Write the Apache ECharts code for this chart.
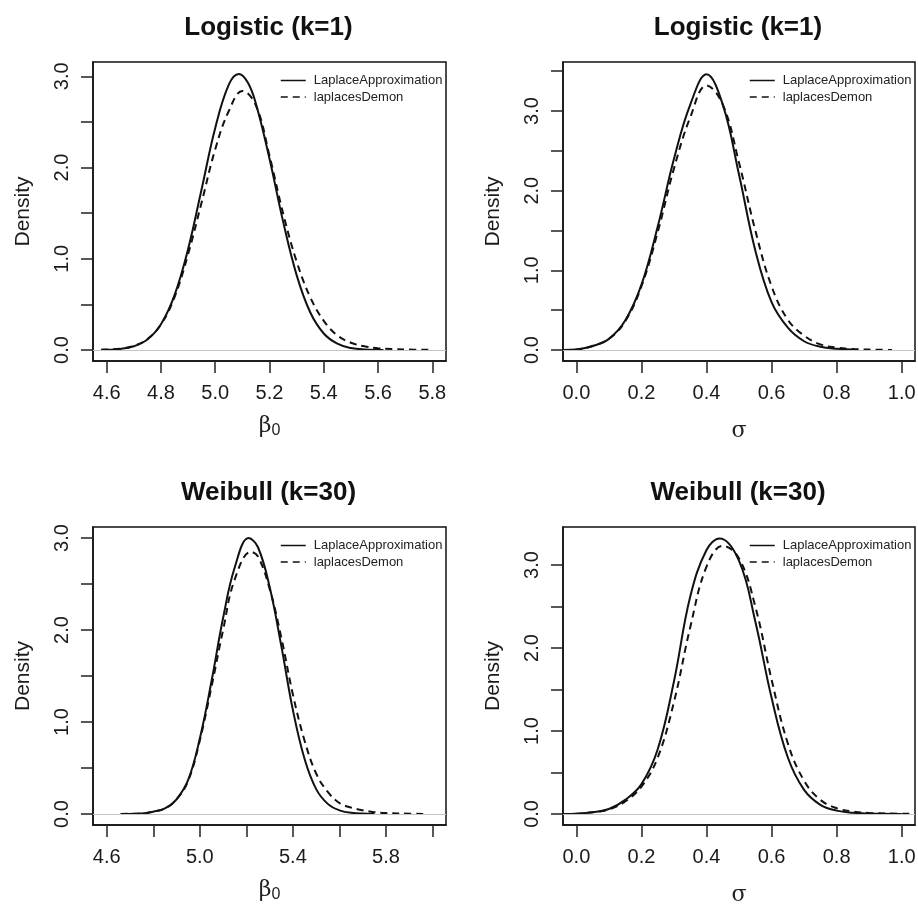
<!DOCTYPE html>
<html>
<head>
<meta charset="utf-8">
<script src="https://cdn.jsdelivr.net/npm/echarts@6/dist/echarts.min.js"></script>
<style>
	html, body { margin: 0; padding: 0; background: #fff; }
	#main { width: 918px; height: 904px; }
</style>
</head>
<body>
<div id="main"></div>
<script>
// ---- data ----
const titles = ['Logistic (k=1)', 'Logistic (k=1)', 'Weibull (k=30)', 'Weibull (k=30)'];
const seriesNames = ['LaplaceApproximation', 'laplacesDemon'];

// Logistic, beta0
const logBetaLA_x = [4.58, 4.65, 4.70, 4.75, 4.80, 4.85, 4.90, 4.95, 5.00, 5.05, 5.087, 5.12, 5.15, 5.20, 5.25, 5.30, 5.35, 5.40, 5.45, 5.50, 5.55, 5.62];
const logBetaLA_y = [0.002, 0.012, 0.041, 0.116, 0.283, 0.602, 1.107, 1.765, 2.434, 2.908, 3.025, 2.932, 2.699, 2.096, 1.410, 0.821, 0.414, 0.181, 0.069, 0.022, 0.006, 0.001];
const logBetaLD_x = [4.58, 4.65, 4.70, 4.75, 4.80, 4.85, 4.90, 4.95, 5.00, 5.05, 5.10, 5.15, 5.20, 5.25, 5.30, 5.35, 5.40, 5.45, 5.50, 5.55, 5.60, 5.65, 5.70, 5.80];
const logBetaLD_y = [0.003, 0.014, 0.045, 0.12, 0.28, 0.58, 1.05, 1.62, 2.20, 2.62, 2.84, 2.68, 2.13, 1.50, 0.97, 0.58, 0.32, 0.16, 0.08, 0.04, 0.02, 0.01, 0.005, 0.002];

// Logistic, sigma
const logSigLA_x = [-0.04, 0.00, 0.05, 0.10, 0.15, 0.20, 0.25, 0.30, 0.35, 0.40, 0.45, 0.50, 0.55, 0.60, 0.65, 0.70, 0.75, 0.80, 0.85];
const logSigLA_y = [0.0, 0.006, 0.05, 0.14, 0.37, 0.82, 1.55, 2.40, 3.08, 3.46, 3.08, 2.20, 1.25, 0.60, 0.28, 0.11, 0.04, 0.015, 0.005];
const logSigLD_x = [-0.04, 0.00, 0.05, 0.10, 0.15, 0.20, 0.25, 0.30, 0.35, 0.40, 0.45, 0.50, 0.55, 0.60, 0.65, 0.70, 0.75, 0.80, 0.85, 0.90, 0.97];
const logSigLD_y = [0.0, 0.006, 0.05, 0.14, 0.36, 0.80, 1.48, 2.28, 2.92, 3.32, 3.08, 2.35, 1.50, 0.80, 0.38, 0.18, 0.07, 0.03, 0.012, 0.005, 0.001];

// Weibull, beta0
const weiBetaLA_x = [4.66, 4.75, 4.80, 4.85, 4.90, 4.95, 5.00, 5.05, 5.10, 5.15, 5.21, 5.25, 5.30, 5.35, 5.40, 5.45, 5.50, 5.55, 5.60, 5.65, 5.75];
const weiBetaLA_y = [0.001, 0.006, 0.025, 0.06, 0.16, 0.37, 0.82, 1.44, 2.13, 2.68, 3.00, 2.90, 2.47, 1.83, 1.13, 0.60, 0.27, 0.11, 0.04, 0.013, 0.001];
const weiBetaLD_x = [4.66, 4.75, 4.80, 4.85, 4.90, 4.95, 5.00, 5.05, 5.10, 5.15, 5.22, 5.25, 5.30, 5.35, 5.40, 5.45, 5.50, 5.55, 5.60, 5.65, 5.70, 5.75, 5.80, 5.90, 5.96];
const weiBetaLD_y = [0.001, 0.006, 0.025, 0.06, 0.16, 0.36, 0.80, 1.38, 2.00, 2.55, 2.85, 2.80, 2.45, 1.92, 1.30, 0.80, 0.44, 0.24, 0.12, 0.07, 0.04, 0.02, 0.01, 0.003, 0.001];

// Weibull, sigma
const weiSigLA_x = [-0.04, 0.00, 0.05, 0.10, 0.15, 0.20, 0.25, 0.30, 0.35, 0.40, 0.44, 0.50, 0.55, 0.60, 0.65, 0.70, 0.75, 0.80, 0.85, 0.90, 1.00];
const weiSigLA_y = [0.0, 0.003, 0.02, 0.06, 0.17, 0.36, 0.78, 1.60, 2.62, 3.18, 3.32, 3.05, 2.32, 1.40, 0.68, 0.29, 0.11, 0.04, 0.015, 0.006, 0.001];
const weiSigLD_x = [-0.04, 0.00, 0.05, 0.10, 0.15, 0.20, 0.25, 0.30, 0.35, 0.40, 0.45, 0.50, 0.55, 0.60, 0.65, 0.70, 0.75, 0.80, 0.85, 0.90, 1.00, 1.04];
const weiSigLD_y = [0.0, 0.003, 0.02, 0.055, 0.15, 0.33, 0.68, 1.35, 2.25, 2.98, 3.23, 3.08, 2.50, 1.62, 0.85, 0.40, 0.17, 0.07, 0.03, 0.012, 0.002, 0.001];

// tick marks and labels
const betaTicksA = [4.6, 4.8, 5.0, 5.2, 5.4, 5.6, 5.8];
const betaLabelsA = [4.6, 4.8, 5.0, 5.2, 5.4, 5.6, 5.8];
const betaTicksB = [4.6, 4.8, 5.0, 5.2, 5.4, 5.6, 5.8, 6.0];
const betaLabelsB = [4.6, 5.0, 5.4, 5.8];
const sigTicks = [0.0, 0.2, 0.4, 0.6, 0.8, 1.0];
const densTicks3 = [0, 0.5, 1, 1.5, 2, 2.5, 3];
const densTicks35 = [0, 0.5, 1, 1.5, 2, 2.5, 3, 3.5];
const densLabels = [0, 1, 2, 3];

const SANS = 'Liberation Sans, Arial, Helvetica, sans-serif';
const SERIF = 'DejaVu Serif, Liberation Serif, serif';
const INK = '#1a1a1a';

const zip = (xs, ys) => xs.map((x, i) => [x, ys[i]]);

const panels = [
	{ box: [93, 62, 353, 299], xr: [4.5495, 5.8505], yr: [-0.1206, 3.157], xt: betaTicksA, xl: betaLabelsA, yt: densTicks3, xname: 'beta',
	  la: zip(logBetaLA_x, logBetaLA_y), ld: zip(logBetaLD_x, logBetaLD_y) },
	{ box: [563, 62, 352, 299], xr: [-0.0412, 1.0409], yr: [-0.138, 3.615], xt: sigTicks, xl: sigTicks, yt: densTicks35, xname: 'sigma',
	  la: zip(logSigLA_x, logSigLA_y), ld: zip(logSigLD_x, logSigLD_y) },
	{ box: [93, 527, 353, 298], xr: [4.541, 6.058], yr: [-0.1196, 3.12], xt: betaTicksB, xl: betaLabelsB, yt: densTicks3, xname: 'beta',
	  la: zip(weiBetaLA_x, weiBetaLA_y), ld: zip(weiBetaLD_x, weiBetaLD_y) },
	{ box: [563, 527, 352, 298], xr: [-0.0412, 1.0409], yr: [-0.133, 3.458], xt: sigTicks, xl: sigTicks, yt: densTicks35, xname: 'sigma',
	  la: zip(weiSigLA_x, weiSigLA_y), ld: zip(weiSigLD_x, weiSigLD_y) }
];

const grid = [], xAxis = [], yAxis = [], series = [], title = [], legend = [];

panels.forEach((p, i) => {
	const [l, t, w, h] = p.box;
	const isBeta = p.xname === 'beta';
	grid.push({ left: l, top: t, width: w, height: h, show: true, borderColor: '#111', borderWidth: 1.5, containLabel: false, outerBoundsMode: 'none' });
	title.push({
		text: titles[i], left: l + w / 2 - 1, top: t - 47, textAlign: 'center', padding: 0,
		textStyle: { fontFamily: SANS, fontSize: 26, fontWeight: 'bold', color: '#111' }
	});
	xAxis.push({
		type: 'value', gridIndex: i, min: p.xr[0], max: p.xr[1],
		name: isBeta ? '{g|β}{s|0}' : '{g|σ}',
		nameLocation: 'middle', nameGap: isBeta ? 52 : 59,
		nameTextStyle: {
			rich: {
				g: { fontFamily: SERIF, fontSize: 22, color: '#222' },
				s: { fontFamily: SANS, fontSize: 16, color: '#222', padding: [10, 0, 0, 0] }
			}
		},
		splitLine: { show: false },
		axisLine: { show: true, onZero: false, lineStyle: { color: '#111', width: 1.5 } },
		axisTick: { show: true, length: 12, customValues: p.xt, lineStyle: { color: '#222', width: 1.5 } },
		axisLabel: { margin: 22, customValues: p.xl, formatter: v => v.toFixed(1), fontFamily: SANS, fontSize: 20, color: INK }
	});
	yAxis.push({
		type: 'value', gridIndex: i, min: p.yr[0], max: p.yr[1],
		name: 'Density', nameLocation: 'middle', nameGap: 59,
		nameTextStyle: { fontFamily: SANS, fontSize: 21, color: INK },
		splitLine: { show: false },
		axisLine: { show: true, onZero: false, lineStyle: { color: '#111', width: 1.5 } },
		axisTick: { show: true, length: 12, customValues: p.yt, lineStyle: { color: '#222', width: 1.5 } },
		axisLabel: { margin: 21, rotate: 90, customValues: densLabels, formatter: v => v.toFixed(1), fontFamily: SANS, fontSize: 20, color: INK }
	});
	series.push({
		name: seriesNames[0], type: 'line', xAxisIndex: i, yAxisIndex: i,
		data: p.la, symbol: 'none', smooth: 0.4,
		lineStyle: { color: '#111', width: 2, type: 'solid' },
		itemStyle: { color: '#111' },
		markLine: {
			silent: true, symbol: ['none', 'none'], label: { show: false },
			lineStyle: { color: '#c4c4c4', type: 'solid', width: 1 },
			data: [{ yAxis: 0 }]
		},
		z: 3
	});
	series.push({
		name: seriesNames[1], type: 'line', xAxisIndex: i, yAxisIndex: i,
		data: p.ld, symbol: 'none', smooth: 0.4,
		lineStyle: { color: '#111', width: 2, type: [7, 5] },
		itemStyle: { color: '#111' },
		z: 3
	});
	legend.push({
		orient: 'vertical', left: l + w - 166, top: t + 12, padding: 0,
		itemWidth: 25, itemHeight: 14, itemGap: 3.6, selectedMode: false,
		itemStyle: { opacity: 0 },
		lineStyle: { width: 1.5 },
		data: seriesNames,
		textStyle: { fontFamily: SANS, fontSize: 13, color: '#222', padding: [0, 0, 0, 3] }
	});
});

const myChart = echarts.init(document.getElementById('main'), null, { renderer: 'canvas' });
myChart.setOption({
	animation: false,
	backgroundColor: '#fff',
	title, grid, xAxis, yAxis, legend, series
});
</script>
</body>
</html>
